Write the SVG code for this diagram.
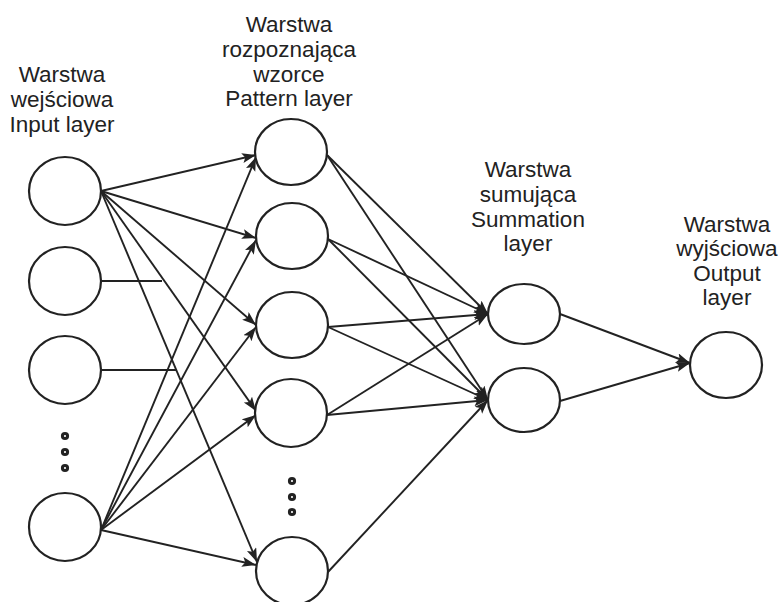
<svg xmlns="http://www.w3.org/2000/svg" width="781" height="602" viewBox="0 0 781 602">
  <style>
    .node { fill: #fff; stroke: #222; stroke-width: 2.2; }
    .dot { fill: #fff; stroke: #222; stroke-width: 3; }
    .lbl { font-family: "Liberation Sans", Arial, sans-serif; font-size: 22.5px; fill: #222; text-anchor: middle; }
    .edge { stroke: #222; stroke-width: 1.9; fill: none; }
    .arr { marker-end: url(#head); }
  </style>
  <defs>
    <marker id="head" markerUnits="userSpaceOnUse" markerWidth="16" markerHeight="12" refX="14" refY="5" orient="auto">
      <path d="M0,0 L14,5 L0,10 L3,5 Z" fill="#222"/>
    </marker>
  </defs>
  <rect width="781" height="602" fill="#fff"/>

  <!-- layer captions -->
  <g id="captions">
    <text class="lbl" x="62" y="82">Warstwa</text>
    <text class="lbl" x="62" y="107">wejściowa</text>
    <text class="lbl" x="62" y="132">Input layer</text>

    <text class="lbl" x="289" y="32">Warstwa</text>
    <text class="lbl" x="289" y="57">rozpoznająca</text>
    <text class="lbl" x="289" y="82">wzorce</text>
    <text class="lbl" x="289" y="106">Pattern layer</text>

    <text class="lbl" x="528" y="177">Warstwa</text>
    <text class="lbl" x="528" y="202">sumująca</text>
    <text class="lbl" x="528" y="227">Summation</text>
    <text class="lbl" x="528" y="251">layer</text>

    <text class="lbl" x="727" y="232">Warstwa</text>
    <text class="lbl" x="727" y="256">wyjściowa</text>
    <text class="lbl" x="727" y="281">Output</text>
    <text class="lbl" x="727" y="305">layer</text>
  </g>

  <!-- connectors -->
  <g id="connectors">
    <!-- input 1 to pattern layer -->
    <line class="edge arr" x1="101" y1="191" x2="256" y2="155"/>
    <line class="edge arr" x1="101" y1="191" x2="256" y2="238"/>
    <line class="edge arr" x1="101" y1="191" x2="256" y2="325"/>
    <line class="edge arr" x1="101" y1="191" x2="256" y2="411"/>
    <line class="edge arr" x1="101" y1="191" x2="257" y2="562"/>
    <!-- inputs 2 and 3 (partial) -->
    <line class="edge" x1="101" y1="281" x2="162" y2="281"/>
    <line class="edge" x1="100" y1="370" x2="177" y2="370"/>
    <!-- input 4 to pattern layer -->
    <line class="edge arr" x1="101" y1="530" x2="256" y2="157"/>
    <line class="edge arr" x1="101" y1="530" x2="256" y2="240"/>
    <line class="edge arr" x1="101" y1="530" x2="256" y2="327"/>
    <line class="edge arr" x1="101" y1="530" x2="256" y2="415"/>
    <line class="edge arr" x1="101" y1="530" x2="256" y2="565"/>
    <!-- pattern to summation -->
    <line class="edge arr" x1="327" y1="155" x2="488" y2="314"/>
    <line class="edge arr" x1="327" y1="155" x2="488" y2="400"/>
    <line class="edge arr" x1="328" y1="239" x2="488" y2="314"/>
    <line class="edge arr" x1="328" y1="239" x2="488" y2="400"/>
    <line class="edge arr" x1="328" y1="327" x2="488" y2="314"/>
    <line class="edge arr" x1="328" y1="327" x2="488" y2="400"/>
    <line class="edge arr" x1="327" y1="415" x2="488" y2="314"/>
    <line class="edge arr" x1="327" y1="415" x2="488" y2="400"/>
    <line class="edge arr" x1="328" y1="572" x2="488" y2="400"/>
    <!-- summation to output -->
    <line class="edge arr" x1="560" y1="314" x2="690" y2="363"/>
    <line class="edge arr" x1="560" y1="401" x2="690" y2="363"/>
  </g>

  <!-- input layer -->
  <g id="input-1"><ellipse class="node" cx="65" cy="191" rx="36" ry="34"/></g>
  <g id="input-2"><ellipse class="node" cx="65" cy="281" rx="36" ry="34"/></g>
  <g id="input-3"><ellipse class="node" cx="65" cy="370" rx="36" ry="34"/></g>
  <g id="input-dots">
    <circle class="dot" cx="65" cy="436" r="2.6"/>
    <circle class="dot" cx="65" cy="452" r="2.6"/>
    <circle class="dot" cx="65" cy="468" r="2.6"/>
  </g>
  <g id="input-n"><ellipse class="node" cx="65" cy="527" rx="36" ry="34"/></g>

  <!-- pattern layer -->
  <g id="pattern-1"><ellipse class="node" cx="291" cy="152" rx="36" ry="33"/></g>
  <g id="pattern-2"><ellipse class="node" cx="292" cy="236" rx="36" ry="33"/></g>
  <g id="pattern-3"><ellipse class="node" cx="292" cy="325" rx="36" ry="33"/></g>
  <g id="pattern-4"><ellipse class="node" cx="291" cy="413" rx="36" ry="34"/></g>
  <g id="pattern-dots">
    <circle class="dot" cx="292" cy="481" r="2.6"/>
    <circle class="dot" cx="292" cy="497" r="2.6"/>
    <circle class="dot" cx="292" cy="512" r="2.6"/>
  </g>
  <g id="pattern-n"><ellipse class="node" cx="292" cy="571" rx="36" ry="34"/></g>

  <!-- summation layer -->
  <g id="sum-1"><ellipse class="node" cx="524" cy="314" rx="36" ry="30"/></g>
  <g id="sum-2"><ellipse class="node" cx="524" cy="400" rx="36" ry="32"/></g>

  <!-- output layer -->
  <g id="output"><ellipse class="node" cx="726" cy="365" rx="36" ry="33"/></g>
</svg>
